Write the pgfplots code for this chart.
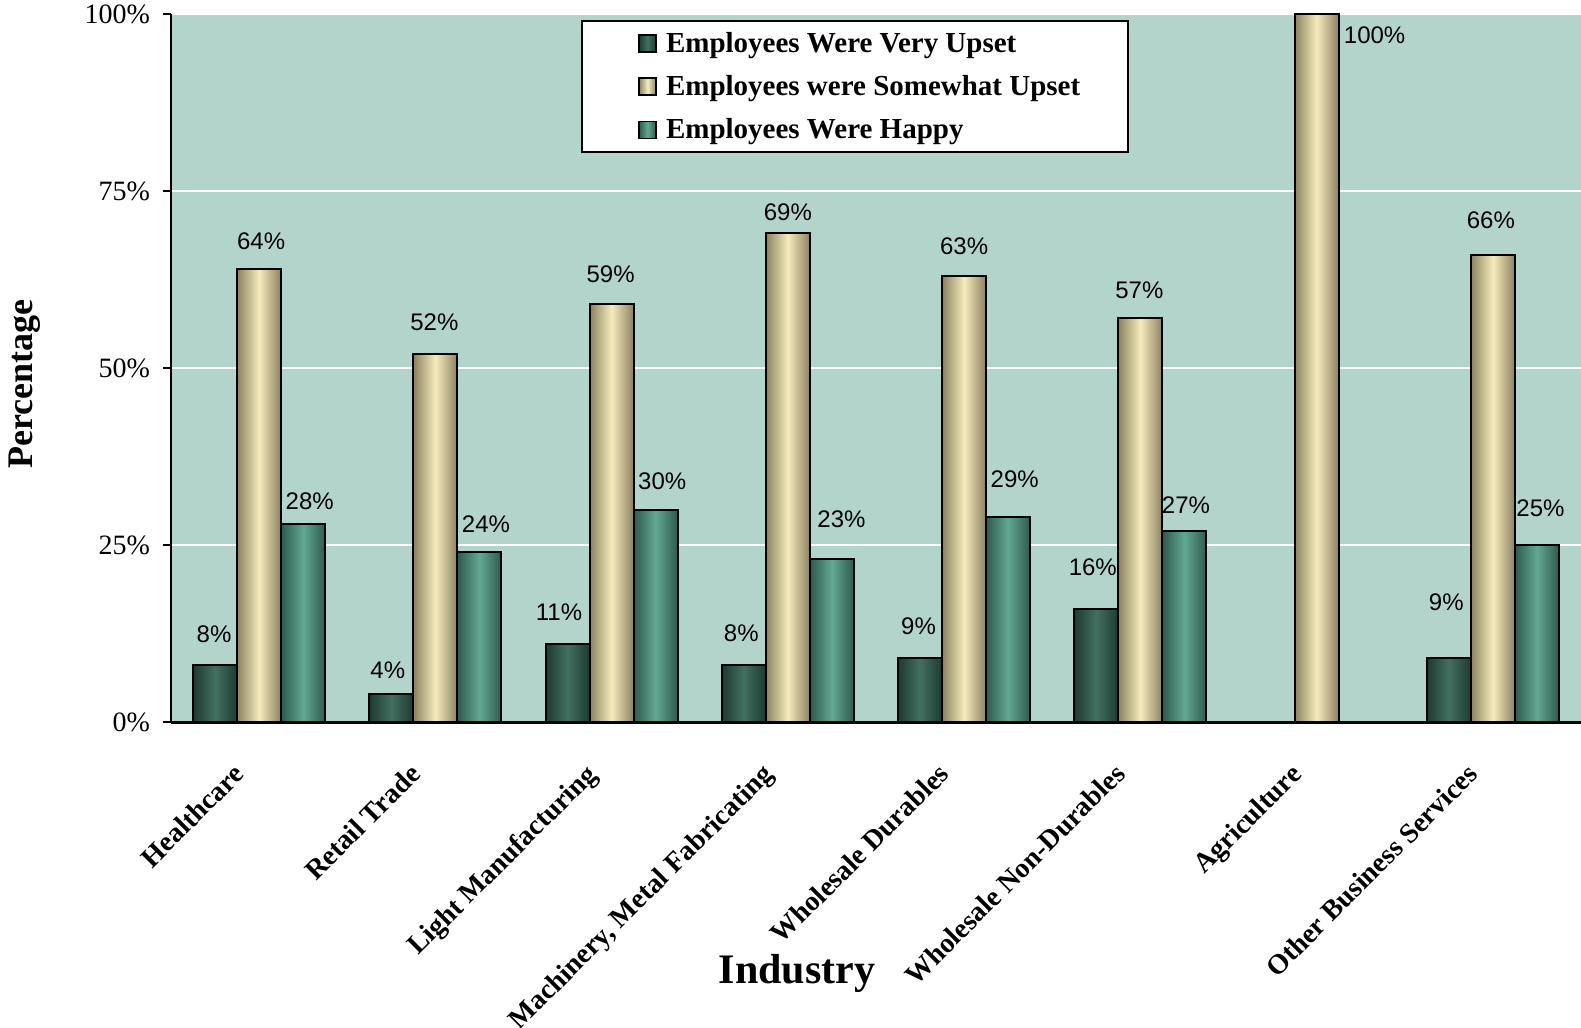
\documentclass[border=0pt]{standalone}
\usepackage{fontspec}
\setmainfont{Liberation Serif}
\newfontfamily\arial{Liberation Sans}
\usepackage{pgfplots}
\pgfplotsset{compat=1.18}
\definecolor{bgc}{RGB}{179,212,203}
\definecolor{dgE}{RGB}{30,58,49}
\definecolor{dgM}{RGB}{66,112,96}
\definecolor{bgE}{RGB}{139,129,96}
\definecolor{bgM}{RGB}{246,236,189}
\definecolor{tlE}{RGB}{46,90,76}
\definecolor{tlM}{RGB}{98,168,147}

\pgfplotsset{
  mylegend/.style={legend image code/.code={\path (0pt,0pt) (17pt,0pt); \draw[##1, draw=black, line width=0.8pt] (6pt,-4.25pt) rectangle (14.5pt,4.25pt);}},
  sA/.style={bar shift=-0.25, draw=black, line width=1pt, left color=dgE, right color=dgE, middle color=dgM, mylegend},
  sB/.style={bar shift=0, draw=black, line width=1pt, left color=bgE, right color=bgE, middle color=bgM, mylegend},
  sC/.style={bar shift=0.25, draw=black, line width=1pt, left color=tlE, right color=tlE, middle color=tlM, mylegend},
  lab/.style 2 args={
    nodes near coords={\pgfmathprintnumber[assume math mode=true]{\pgfplotspointmeta}\%},
    every node near coord/.append style={anchor=center, xshift=#1pt, yshift=#2pt, font=\arial\fontsize{12}{14}\selectfont, text=black, inner sep=0pt},
  },
}

\begin{document}
\begin{tikzpicture}
\begin{axis}[
  at={(0,0)}, anchor=south west,
  width=705pt, height=354pt, scale only axis,
  xmin=-0.5, xmax=7.5, ymin=0, ymax=100,
  enlargelimits=false,
  ybar, bar width=0.25,
  axis background/.style={fill=bgc},
  axis x line*=bottom, axis y line*=left,
  x axis line style={line width=1.5pt},
  y axis line style={line width=1pt},
  ymajorgrids, grid style={white, line width=1pt},
  ytick={0,25,50,75,100},
  yticklabels={0\%,25\%,50\%,75\%,100\%},
  xtick={0,...,7},
  xticklabels={Healthcare, Retail Trade, Light Manufacturing, {Machinery, Metal Fabricating}, Wholesale Durables, Wholesale Non-Durables, Agriculture, Other Business Services},
  xtick style={draw=none},
  ytick style={black, line width=1pt},
  tick align=outside, major tick length=4pt,
  yticklabel style={font=\fontsize{14}{16}\selectfont, xshift=-3pt},
  xticklabel style={xshift=-13.6pt, yshift=-15.8pt, font=\bfseries\fontsize{14}{16}\selectfont, rotate=45, anchor=north east, inner sep=0pt},
  ylabel={Percentage},
  ylabel style={font=\bfseries\fontsize{18}{20}\selectfont, at={(axis description cs:-0.1035,0.477)}, anchor=center},
  xlabel={Industry},
  xlabel style={font=\bfseries\fontsize{21}{24}\selectfont, at={(axis description cs:0.444,-0.355)}, anchor=center},
  legend style={at={(0.2908,0.9915)}, anchor=north west, draw=black, line width=1pt, fill=white,
    font=\bfseries\fontsize{14.5}{16}\selectfont, inner xsep=22pt, inner ysep=3.5pt, row sep=6pt,
    nodes={inner sep=2pt}},
  legend cell align=left,
]
% legend-bearing first bars
\addplot[sA, lab={-0.5}{15.5}] coordinates {(0,8)};
\addlegendentry{Employees Were Very Upset}
\addplot[sB, lab={1}{14}] coordinates {(0,64)};
\addlegendentry{Employees were Somewhat Upset}
\addplot[sC, lab={3.25}{11.5}] coordinates {(0,28)};
\addlegendentry{Employees Were Happy}
% Employees Were Very Upset
\addplot[sA, forget plot, lab={-1.75}{11.5}] coordinates {(1,4)};
\addplot[sA, forget plot, lab={-4.25}{16}] coordinates {(2,11)};
\addplot[sA, forget plot, lab={-1.25}{16}] coordinates {(3,8)};
\addplot[sA, forget plot, lab={-0.75}{16}] coordinates {(4,9)};
\addplot[sA, forget plot, lab={-1.75}{20.5}] coordinates {(5,16)};
\addplot[sA, forget plot, lab={-1.25}{28}] coordinates {(7,9)};
% Employees were Somewhat Upset
\addplot[sB, forget plot, lab={-0.5}{16}] coordinates {(1,52)};
\addplot[sB, forget plot, lab={-0.5}{15}] coordinates {(2,59)};
\addplot[sB, forget plot, lab={0}{10.5}] coordinates {(3,69)};
\addplot[sB, forget plot, lab={0}{15}] coordinates {(4,63)};
\addplot[sB, forget plot, lab={-0.5}{14}] coordinates {(5,57)};
\addplot[sB, forget plot, lab={29}{-10.5}] coordinates {(6,100)};
\addplot[sB, forget plot, lab={-1}{17}] coordinates {(7,66)};
% Employees Were Happy
\addplot[sC, forget plot, lab={3.25}{14}] coordinates {(1,24)};
\addplot[sC, forget plot, lab={3.25}{14}] coordinates {(2,30)};
\addplot[sC, forget plot, lab={4.75}{20}] coordinates {(3,23)};
\addplot[sC, forget plot, lab={3.25}{18.5}] coordinates {(4,29)};
\addplot[sC, forget plot, lab={0.75}{13}] coordinates {(5,27)};
\addplot[sC, forget plot, lab={1.75}{18.5}] coordinates {(7,25)};
\end{axis}
\pgfresetboundingbox
\path[use as bounding box] (-85.5pt,-153pt) rectangle (705pt,361pt);
\end{tikzpicture}
\end{document}
